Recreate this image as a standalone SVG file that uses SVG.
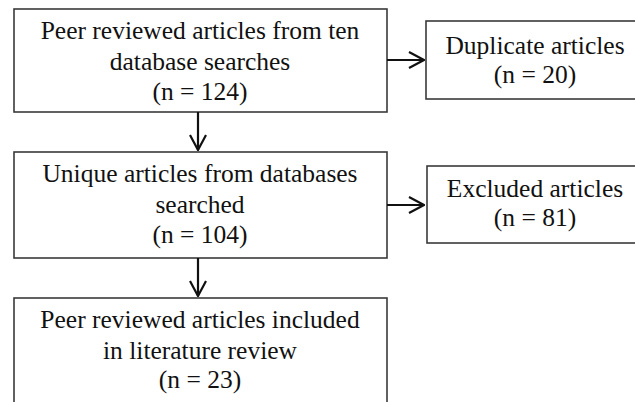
<svg xmlns="http://www.w3.org/2000/svg" width="635" height="402" viewBox="0 0 635 402">
  <style>
    .box { fill: #ffffff; stroke: #3a3a3a; stroke-width: 1.6; }
    .lbl { font-family: "Liberation Serif", "Times New Roman", serif; font-size: 25.5px; fill: #111111; text-anchor: middle; }
    .edge { fill: none; stroke: #111111; stroke-width: 2.2; }
  </style>
  <defs>
    <marker id="arrow" markerUnits="userSpaceOnUse" viewBox="0 0 17 18" refX="16" refY="9" markerWidth="17" markerHeight="18" orient="auto">
      <path d="M1,1 L16,9 L1,17" fill="none" stroke="#111111" stroke-width="2.2"/>
    </marker>
  </defs>
  <rect width="635" height="402" fill="#ffffff"/>

  <g id="node-search">
    <rect class="box" x="14" y="9" width="373" height="103"/>
    <text class="lbl" x="200" y="39">Peer reviewed articles from ten</text>
    <text class="lbl" x="200" y="70">database searches</text>
    <text class="lbl" x="200" y="100">(n = 124)</text>
  </g>

  <g id="node-duplicates">
    <rect class="box" x="426" y="21" width="220" height="78"/>
    <text class="lbl" x="535" y="54">Duplicate articles</text>
    <text class="lbl" x="535" y="83">(n = 20)</text>
  </g>

  <g id="node-unique">
    <rect class="box" x="14" y="152" width="373" height="106"/>
    <text class="lbl" x="200" y="182">Unique articles from databases</text>
    <text class="lbl" x="200" y="213">searched</text>
    <text class="lbl" x="200" y="243">(n = 104)</text>
  </g>

  <g id="node-excluded">
    <rect class="box" x="427" y="166" width="220" height="77"/>
    <text class="lbl" x="535" y="197">Excluded articles</text>
    <text class="lbl" x="535" y="226">(n = 81)</text>
  </g>

  <g id="node-included">
    <rect class="box" x="14" y="298" width="373" height="120"/>
    <text class="lbl" x="200" y="328">Peer reviewed articles included</text>
    <text class="lbl" x="200" y="359">in literature review</text>
    <text class="lbl" x="200" y="388">(n = 23)</text>
  </g>

  <g id="connectors">
    <path class="edge" d="M387,60 H424" marker-end="url(#arrow)"/>
    <path class="edge" d="M198,112 V150" marker-end="url(#arrow)"/>
    <path class="edge" d="M387,205 H424" marker-end="url(#arrow)"/>
    <path class="edge" d="M198,258 V296" marker-end="url(#arrow)"/>
  </g>
</svg>
